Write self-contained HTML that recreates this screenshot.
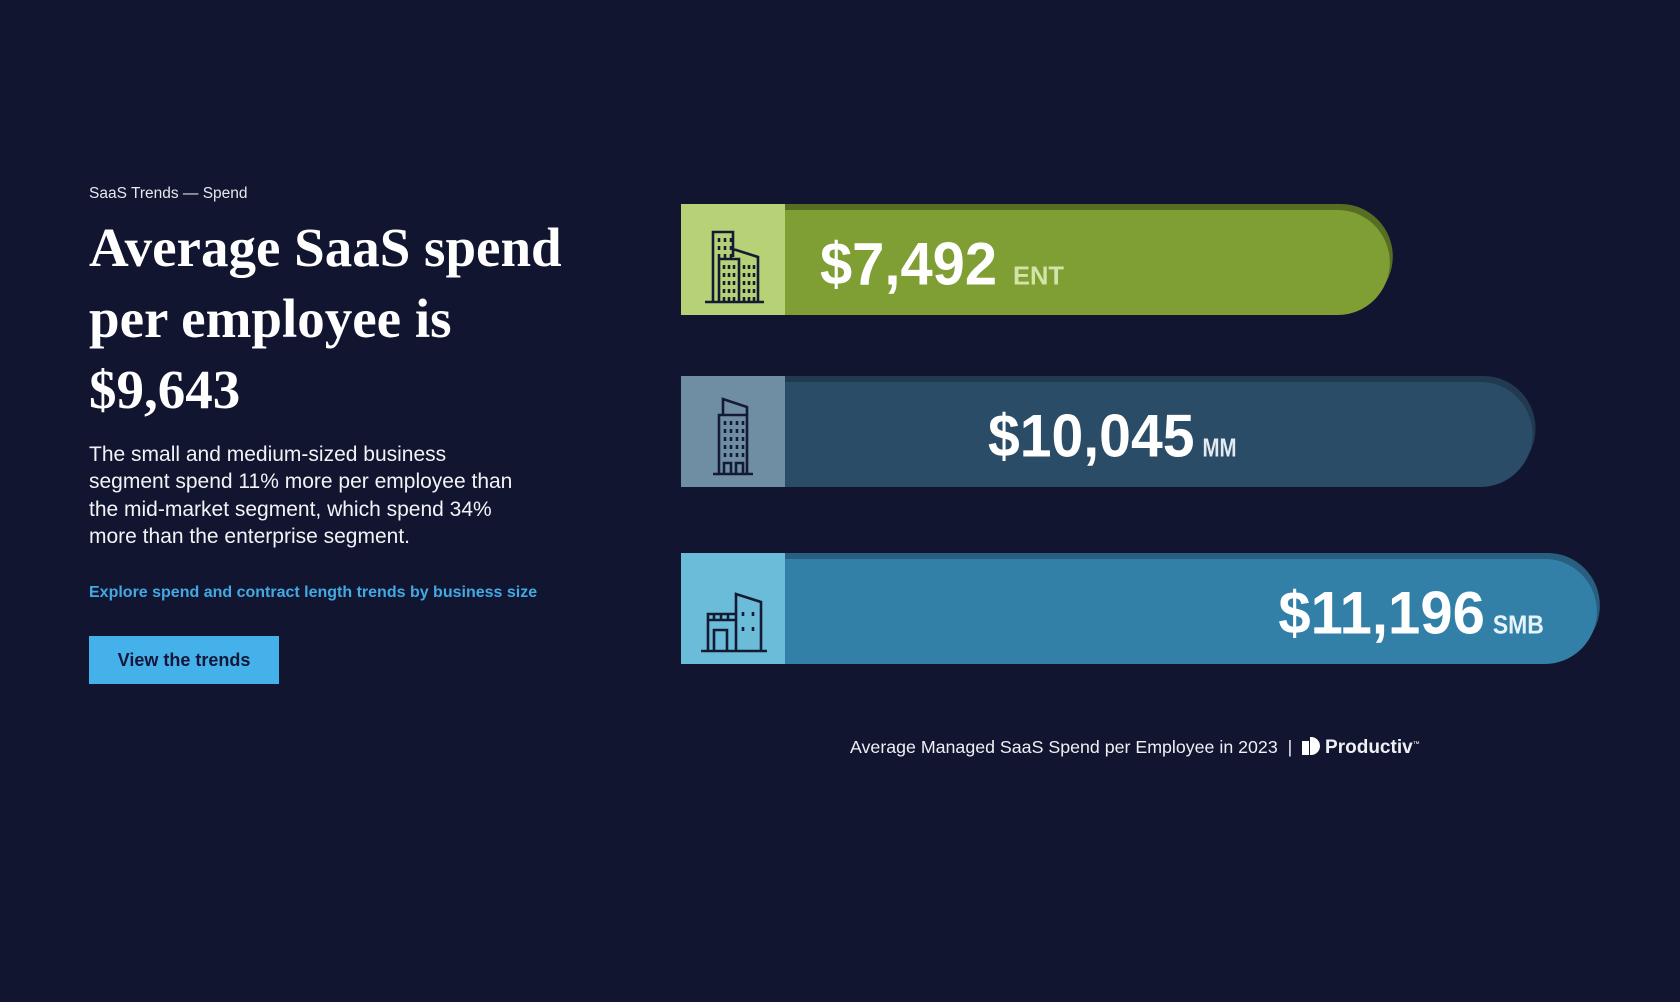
<!DOCTYPE html>
<html><head><meta charset="utf-8"><style>
html,body{margin:0;padding:0;background:#11152f;width:1680px;height:1002px;overflow:hidden;font-family:"Liberation Sans",sans-serif;color:#fff}
.abs{position:absolute;white-space:nowrap}
#eyebrow{left:89px;top:185px;font-size:15.5px;color:#e6e8ef}
#title{left:89px;top:212px;font-family:"Liberation Serif",serif;font-weight:bold;font-size:55px;line-height:71px}
#para{left:89px;top:441px;font-size:21px;line-height:27.4px;color:#f2f3f7}
#link{left:89px;top:584px;font-size:16px;font-weight:bold;color:#43a9e4;text-decoration:none}
#btn{left:89px;top:636px;width:190px;height:48px;background:#45b1eb;color:#12173a;font-size:18px;font-weight:bold;line-height:48px;text-align:center}
#caption{left:850px;top:737px;font-size:17.8px;color:#eef0f5}
</style></head><body>
<div class="abs" id="eyebrow">SaaS Trends — Spend</div>
<div class="abs" id="title">Average SaaS spend<br>per employee is<br>$9,643</div>
<div class="abs" id="para">The small and medium-sized business<br>segment spend 11% more per employee than<br>the mid-market segment, which spend 34%<br>more than the enterprise segment.</div>
<a class="abs" id="link">Explore spend and contract length trends by business size</a>
<div class="abs" id="btn">View the trends</div>
<svg id="chart" class="abs" style="left:0;top:0" width="1680" height="1002"></svg>
<div class="abs" id="caption">Average Managed SaaS Spend per Employee in 2023 &nbsp;|&nbsp; <span style="display:inline-block;width:18px;height:18px;vertical-align:-2px;position:relative"><span style="position:absolute;left:0;top:4px;width:7px;height:14px;background:#fff"></span><span style="position:absolute;left:8px;top:0;width:10px;height:18px;background:#fff;border-radius:0 9px 9px 0"></span></span> <b style="font-size:19px">Productiv</b><sup style="font-size:7px">™</sup></div>
<script>
const categories = ["ENT","MM","SMB"];
const values = [7492,10045,11196];
const valueLabels = ["$7,492","$10,045","$11,196"];
const NS="http://www.w3.org/2000/svg";
const svg=document.getElementById('chart');
const x0=681, iconW=104, barH=111;
const rowTop=[204,376,553];
const styles=[{fill:"#7f9e34",icon:"#b7d177",top:"#566d22",lab:"#d4e3a8",mode:"left",off:139},
{fill:"#2b4c66",icon:"#6f8ea3",top:"#223a50",lab:"#e3ebf2",mode:"left",off:307},
{fill:"#3280a7",icon:"#6bbcd9",top:"#285f80",lab:"#e6f3fa",mode:"right",off:56}];
function xLen(v){return 293+0.0559*v;}
function mk(t,a){const e=document.createElementNS(NS,t);for(const k in a)e.setAttribute(k,a[k]);svg.appendChild(e);return e;}
function roundBar(x,y,w,h){const r=h/2,rx=Math.min(52,r);return `M${x},${y}H${x+w-rx}A${rx},${r} 0 0 1 ${x+w-rx},${y+h}H${x}Z`;}
function dots(x1,y1,cols,rows,dx,dy){let d="";for(let r=0;r<rows;r++)for(let c=0;c<cols;c++){const x=x1+c*dx,y=y1+r*dy;d+=`M${x},${y}v4`;}return d;}
const icons=[
"M32,95V25H52V50M52,42L77,50V95M38,95V52H58V95M24,95H83"+dots(38,31,3,3,6,8)+dots(43,58,3,5,5,8)+dots(63,58,3,5,5,8),
"M38,95V36H66V95M42,36V20L66,28V36M32,95H72M43,95V84H50V95M55,95V84H62V95"+dots(44,42,4,5,6,8),
"M27,95V58H55V95M55,95V38L80,46V95M20,95H86M33,95V74H46V95M27,64H55M33,58V64M40,58V64M47,58V64"+dots(62,56,2,1,10,0)+dots(62,71,2,1,10,0)];
categories.forEach((c,i)=>{
  const s=styles[i],y=rowTop[i],len=xLen(values[i]);
  const back=mk('path',{d:roundBar(x0,y,len,barH-6),fill:s.top});
  
  
  const bar=mk('path',{d:roundBar(x0,y+6,len-3,barH-6),fill:s.fill});
  
  
  const ib=mk('rect',{x:x0,y:y,width:iconW,height:barH,fill:s.icon});
  
  
  const ic=mk('path',{d:icons[i],fill:'none',stroke:'#141a33','stroke-width':2.6,transform:`translate(${x0},${y+3})`});
  
  
  const vw=valueLabels[i].length*29.5, lw=c.length*17, gap=c.length===3&&i===0?16:8;
  const cy=y+barH/2+25;
  let tx=s.mode==="left"?x0+s.off:x0+len-s.off-lw-gap-vw;
  const vt=mk('text',{x:tx,y:cy,'font-size':60,'font-weight':'bold',fill:'#fff',textLength:vw,lengthAdjust:'spacingAndGlyphs','font-family':'Liberation Sans, sans-serif'});
  vt.textContent=valueLabels[i];
  
  
  const lt=mk('text',{x:tx+vw+gap,y:cy,'font-size':26,'font-weight':'bold',fill:s.lab,textLength:lw,lengthAdjust:'spacingAndGlyphs','font-family':'Liberation Sans, sans-serif'});
  lt.textContent=c;
  
  
});
</script>
</body></html>
